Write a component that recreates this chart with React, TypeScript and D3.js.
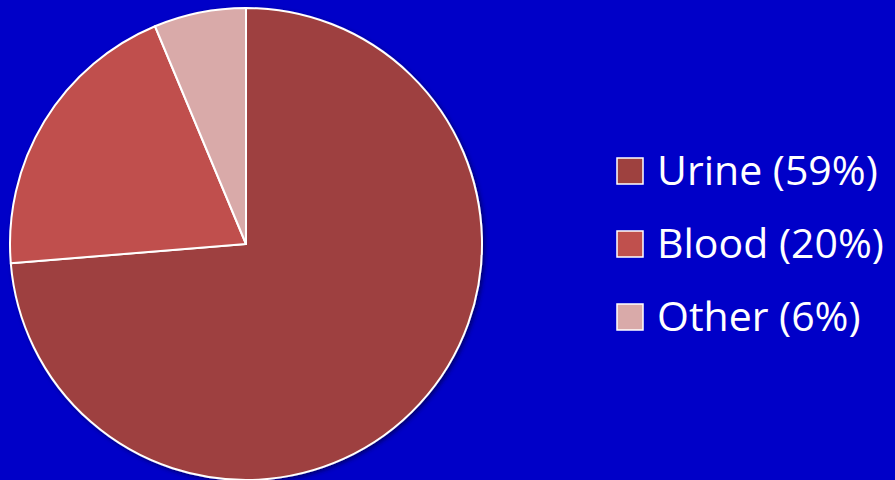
import React from "react";
import * as d3 from "d3";

const categories = ["Urine", "Blood", "Other"];
const values = [73.7, 20, 6.3];
const legendLabels = ["Urine (59%)", "Blood (20%)", "Other (6%)"];
const colors = ["#9E413F", "#C0504D", "#D9AAA9"];

export default function App() {
  const W = 895, H = 480;
  const cx = 246, cy = 244, r = 236;
  const pie = d3.pie<number>().sort(null).value((d) => d)(values);
  const arc = d3.arc<d3.PieArcDatum<number>>().innerRadius(0).outerRadius(r);
  const legendY = d3.scalePoint<string>().domain(categories).range([171, 317]);
  return (
    <svg width={W} height={H} style={{ position: "absolute", left: 0, top: 0, display: "block" }}>
      <defs>
        <filter id="sh" x="-10%" y="-10%" width="120%" height="120%">
          <feDropShadow dx="2" dy="2" stdDeviation="2" floodColor="#000030" floodOpacity="0.6" />
        </filter>
      </defs>
      <rect width={W} height={H} fill="#0000C8" />
      <g transform={`translate(${cx},${cy})`} filter="url(#sh)">
        {pie.map((p, i) => (
          <path key={i} d={arc(p) || ""} fill={colors[i]} stroke="#FFFFFF" strokeWidth={2} strokeLinejoin="round" />
        ))}
      </g>
      {categories.map((c, i) => {
        const y = legendY(c)!;
        return (
          <g key={c}>
            <rect x={617} y={y - 13} width={26} height={26} fill={colors[i]} stroke="#FFFFFF" strokeWidth={1.5} />
            <text x={657} y={y + 14} fill="#FFFFFF" fontFamily="'Open Sans', sans-serif" fontSize={41}>
              {legendLabels[i]}
            </text>
          </g>
        );
      })}
    </svg>
  );
}
